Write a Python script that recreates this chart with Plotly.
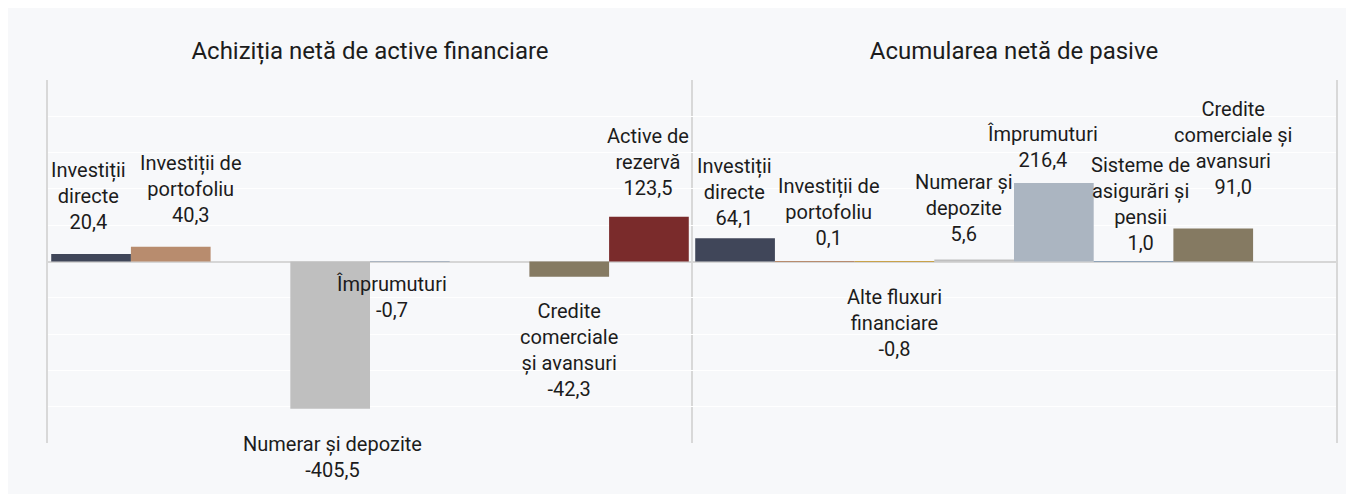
import plotly.graph_objects as go

# ---------------- data ----------------
panels = ["Achiziția netă de active financiare", "Acumularea netă de pasive"]

series = [
    "Investiții directe",
    "Investiții de portofoliu",
    "Alte fluxuri financiare",
    "Numerar și depozite",
    "Împrumuturi",
    "Sisteme de asigurări și pensii",
    "Credite comerciale și avansuri",
    "Active de rezervă",
]

values_assets = [20.4, 40.3, None, -405.5, -0.7, None, -42.3, 123.5]
values_liabilities = [64.1, 0.1, -0.8, 5.6, 216.4, 1.0, 91.0, None]

labels_assets = [
    "Investiții<br>directe",
    "Investiții de<br>portofoliu",
    None,
    "Numerar și depozite",
    "Împrumuturi",
    None,
    "Credite<br>comerciale<br>și avansuri",
    "Active de<br>rezervă",
]
labels_liabilities = [
    "Investiții<br>directe",
    "Investiții de<br>portofoliu",
    "Alte fluxuri<br>financiare",
    "Numerar și<br>depozite",
    "Împrumuturi",
    "Sisteme de<br>asigurări și<br>pensii",
    "Credite<br>comerciale și<br>avansuri",
    None,
]

# ---------------- style ----------------
colors = ["#404659", "#b88c6e", "#c9a24a", "#bfbfbf", "#abb5c1", "#8fa3b8", "#857a62", "#7a2b2b"]

# label offsets in pixels (dx, distance of label centre from bar end)
label_shift_assets = [(-3, 58), (20, 58), None, (2, 48), (-18, 35), None, (0, 73), (-1, 55)]
label_shift_liabilities = [(-1, 46), (14, 49), (0, 61), (-10, 51), (-11, 36), (7, 57), (20, 80), None]

BG = "#f7f8fa"
FONT = "Roboto"
TEXT = "#1c1c1c"
LINE = "#d8d8d8"
bargap = 0.01

fig = go.Figure()
for i, name in enumerate(series):
    fig.add_trace(go.Bar(
        name=name,
        x=panels,
        y=[values_assets[i], values_liabilities[i]],
        marker=dict(color=colors[i], line=dict(width=0)),
        hoverinfo="skip",
    ))

n = len(series)
bw = (1 - bargap) / n
annotations = []
for c, (vals, labs, shifts) in enumerate([
    (values_assets, labels_assets, label_shift_assets),
    (values_liabilities, labels_liabilities, label_shift_liabilities),
]):
    for i in range(n):
        v = vals[i]
        if v is None or labs[i] is None:
            continue
        dx, dy = shifts[i]
        txt = labs[i] + "<br>" + f"{v:.1f}".replace(".", ",")
        annotations.append(dict(
            x=c + (i - (n - 1) / 2) * bw,
            y=v,
            xref="x", yref="y",
            text=txt,
            showarrow=False,
            xanchor="center", yanchor="middle",
            xshift=dx,
            yshift=dy if v >= 0 else -dy,
            font=dict(family=FONT, size=20, color=TEXT),
            align="center",
        ))

fig.update_layout(
    width=1338,
    height=486,
    margin=dict(l=40, r=8, t=72, b=51),
    paper_bgcolor=BG,
    plot_bgcolor=BG,
    barmode="group",
    bargap=bargap,
    bargroupgap=0,
    showlegend=False,
    font=dict(family=FONT, color=TEXT),
    annotations=annotations,
)
fig.update_xaxes(
    type="category",
    side="top",
    tickson="boundaries",
    showgrid=True,
    gridcolor=LINE,
    gridwidth=2,
    ticks="",
    showline=False,
    zeroline=False,
    tickfont=dict(family=FONT, size=24, color=TEXT),
    ticklabelstandoff=15,
)
fig.update_yaxes(
    range=[-500, 500],
    dtick=100,
    showticklabels=False,
    showgrid=True,
    gridcolor="#ffffff",
    gridwidth=1,
    zeroline=True,
    zerolinecolor="#d6d6d6",
    zerolinewidth=2,
    showline=True,
    linecolor=LINE,
    linewidth=2,
    mirror=True,
)

fig.write_html("out.html")
